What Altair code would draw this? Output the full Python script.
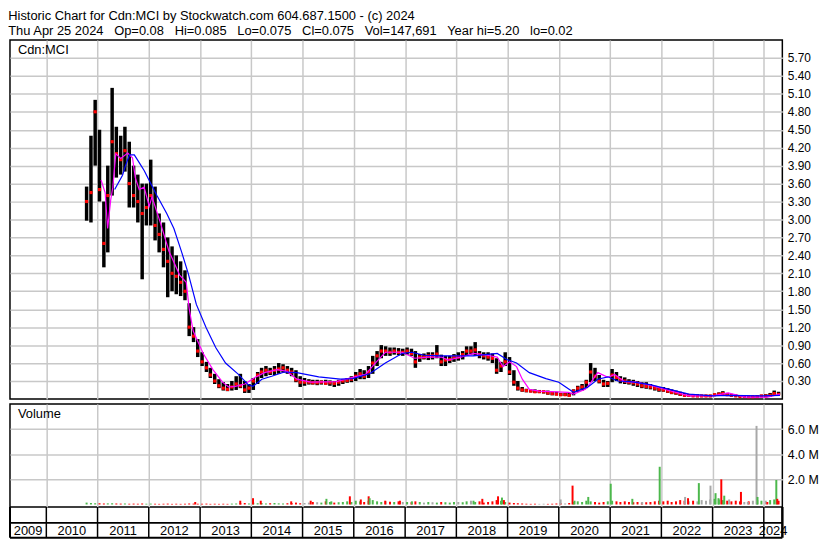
import altair as alt
import pandas as pd

FONT = "Liberation Sans"
GAP = " \u00a0 "
HEADER = [
    "Historic Chart for Cdn:MCI by Stockwatch.com 604.687.1500 - (c) 2024",
    GAP.join(["Thu Apr 25 2024", "Op=0.08", "Hi=0.085", "Lo=0.075", "Cl=0.075",
              "Vol=147,691", "Year hi=5.20", "lo=0.02"]),
]
SYMBOL = "Cdn:MCI"
VOLUME_LABEL = "Volume"

# monthly bars, Oct 2010 .. Apr 2024
START_YEAR, START_MONTH = 2010, 10
HIGH = [
    3.55, 4.40, 5.00,
    4.50, 3.30, 3.90, 5.20, 4.55, 4.40, 4.55, 4.30, 3.90, 3.75, 3.60, 3.60,
    4.00, 3.55, 3.10, 2.95, 2.70, 2.55, 2.40, 2.30, 2.15, 1.60, 1.20, 1.00,
    0.78, 0.62, 0.52, 0.42, 0.33, 0.28, 0.25, 0.30, 0.38, 0.42, 0.30, 0.25,
    0.35, 0.45, 0.52, 0.55, 0.52, 0.55, 0.60, 0.58, 0.55, 0.52, 0.48, 0.38,
    0.35, 0.33, 0.32, 0.32, 0.31, 0.32, 0.31, 0.30, 0.32, 0.33, 0.35, 0.38,
    0.45, 0.50, 0.48, 0.55, 0.72, 0.80, 0.90, 0.88, 0.86, 0.86, 0.85, 0.84,
    0.86, 0.84, 0.80, 0.75, 0.76, 0.78, 0.78, 0.90, 0.74, 0.72, 0.72, 0.75,
    0.78, 0.80, 0.88, 0.88, 0.95, 0.80, 0.78, 0.78, 0.76, 0.68, 0.62, 0.78,
    0.70, 0.48, 0.30, 0.20, 0.17, 0.16, 0.16, 0.15, 0.14, 0.14, 0.12, 0.12,
    0.10, 0.10, 0.10, 0.16, 0.22, 0.25, 0.32, 0.60, 0.52, 0.40, 0.32, 0.30,
    0.50, 0.45, 0.38, 0.36, 0.33, 0.32, 0.30, 0.28, 0.28, 0.25, 0.22, 0.20,
    0.20, 0.18, 0.16, 0.14, 0.12, 0.10, 0.08, 0.08, 0.08, 0.07, 0.07, 0.07,
    0.09, 0.11, 0.13, 0.10, 0.08, 0.07, 0.06, 0.06, 0.05, 0.05, 0.06, 0.07,
    0.08, 0.10, 0.14, 0.12,
]
LOW = [
    2.98, 2.95, 3.90,
    3.30, 2.20, 2.45, 3.40, 3.70, 3.75, 3.80, 3.20, 3.20, 2.95, 2.00, 2.90,
    2.90, 2.65, 2.45, 2.20, 1.70, 1.80, 1.75, 1.72, 1.65, 1.05, 0.95, 0.70,
    0.55, 0.45, 0.35, 0.25, 0.18, 0.14, 0.13, 0.14, 0.15, 0.18, 0.10, 0.10,
    0.15, 0.25, 0.35, 0.38, 0.40, 0.40, 0.42, 0.44, 0.42, 0.38, 0.28, 0.20,
    0.22, 0.24, 0.24, 0.23, 0.24, 0.24, 0.22, 0.20, 0.22, 0.25, 0.27, 0.28,
    0.30, 0.33, 0.33, 0.35, 0.42, 0.55, 0.68, 0.72, 0.72, 0.74, 0.73, 0.72,
    0.74, 0.72, 0.52, 0.62, 0.66, 0.65, 0.66, 0.68, 0.55, 0.55, 0.60, 0.62,
    0.64, 0.66, 0.72, 0.74, 0.72, 0.68, 0.66, 0.64, 0.60, 0.42, 0.45, 0.55,
    0.40, 0.22, 0.14, 0.12, 0.11, 0.11, 0.10, 0.10, 0.09, 0.07, 0.06, 0.06,
    0.05, 0.05, 0.04, 0.06, 0.12, 0.14, 0.18, 0.28, 0.30, 0.26, 0.20, 0.20,
    0.28, 0.30, 0.26, 0.25, 0.24, 0.22, 0.20, 0.18, 0.17, 0.16, 0.14, 0.12,
    0.12, 0.10, 0.08, 0.07, 0.05, 0.04, 0.04, 0.04, 0.03, 0.03, 0.03, 0.03,
    0.05, 0.06, 0.07, 0.05, 0.04, 0.04, 0.03, 0.03, 0.02, 0.02, 0.02, 0.03,
    0.03, 0.04, 0.05, 0.07,
]
CLOSE = [
    3.30, 3.45, 4.80,
    3.50, 2.60, 3.40, 4.30, 4.10, 4.00, 4.15, 3.60, 3.40, 3.30, 3.10, 3.20,
    3.40, 2.90, 2.75, 2.50, 2.30, 2.10, 2.05, 1.95, 1.80, 1.20, 1.05, 0.80,
    0.62, 0.52, 0.40, 0.30, 0.22, 0.18, 0.16, 0.20, 0.25, 0.22, 0.15, 0.18,
    0.30, 0.40, 0.45, 0.48, 0.45, 0.48, 0.50, 0.52, 0.48, 0.45, 0.32, 0.28,
    0.28, 0.28, 0.27, 0.27, 0.28, 0.26, 0.27, 0.26, 0.28, 0.30, 0.31, 0.33,
    0.38, 0.42, 0.38, 0.45, 0.60, 0.72, 0.80, 0.80, 0.78, 0.80, 0.78, 0.78,
    0.80, 0.76, 0.62, 0.70, 0.70, 0.72, 0.72, 0.75, 0.62, 0.65, 0.66, 0.70,
    0.70, 0.74, 0.80, 0.80, 0.82, 0.74, 0.72, 0.70, 0.68, 0.48, 0.55, 0.62,
    0.45, 0.28, 0.18, 0.15, 0.14, 0.13, 0.12, 0.12, 0.12, 0.10, 0.09, 0.08,
    0.07, 0.07, 0.06, 0.13, 0.18, 0.20, 0.28, 0.45, 0.38, 0.30, 0.25, 0.26,
    0.40, 0.36, 0.32, 0.30, 0.28, 0.27, 0.25, 0.22, 0.21, 0.20, 0.18, 0.16,
    0.15, 0.13, 0.11, 0.10, 0.08, 0.06, 0.06, 0.05, 0.05, 0.05, 0.05, 0.05,
    0.07, 0.08, 0.09, 0.07, 0.06, 0.05, 0.04, 0.04, 0.035, 0.035, 0.04, 0.05,
    0.05, 0.06, 0.09, 0.075,
]
# typical daily volume per month (millions)
VOL_BASE = [
    0.15, 0.12, 0.10,
    0.10, 0.08, 0.09, 0.10, 0.08, 0.07, 0.08, 0.06, 0.07, 0.06, 0.08, 0.06,
    0.07, 0.06, 0.05, 0.06, 0.07, 0.05, 0.06, 0.05, 0.06, 0.08, 0.07, 0.06,
    0.06, 0.07, 0.05, 0.06, 0.05, 0.06, 0.05, 0.07, 0.08, 0.10, 0.12, 0.08,
    0.15, 0.10, 0.12, 0.08, 0.10, 0.12, 0.09, 0.08, 0.10, 0.12, 0.15, 0.10,
    0.12, 0.15, 0.20, 0.18, 0.15, 0.25, 0.20, 0.15, 0.18, 0.20, 0.25, 0.20,
    0.30, 0.25, 0.20, 0.30, 0.35, 0.25, 0.20, 0.25, 0.22, 0.20, 0.25, 0.20,
    0.20, 0.18, 0.25, 0.20, 0.15, 0.20, 0.18, 0.15, 0.20, 0.18, 0.15, 0.20,
    0.20, 0.18, 0.25, 0.30, 0.20, 0.25, 0.15, 0.20, 0.25, 0.35, 0.30, 0.20,
    0.15, 0.12, 0.10, 0.08, 0.06, 0.05, 0.06, 0.05, 0.06, 0.05, 0.06, 0.08,
    0.10, 0.08, 0.12, 0.20, 0.25, 0.20, 0.30, 0.25, 0.20, 0.15, 0.20, 0.25,
    0.30, 0.25, 0.20, 0.25, 0.20, 0.18, 0.20, 0.15, 0.18, 0.20, 0.25, 0.30,
    0.25, 0.30, 0.20, 0.25, 0.35, 0.30, 0.25, 0.30, 0.25, 0.35, 0.30, 0.40,
    0.45, 0.40, 0.35, 0.30, 0.25, 0.30, 0.25, 0.20, 0.25, 0.30, 0.35, 0.30,
    0.30, 0.35, 0.40, 0.30,
]

MA_SHORT_DATES = [
    "2011-01-26", "2011-02-24", "2011-03-14", "2011-04-05", "2011-04-20", "2011-05-11",
    "2011-06-15", "2011-08-04", "2011-09-07", "2011-09-27", "2011-10-25", "2011-11-29",
    "2012-01-04", "2012-01-24", "2012-03-22", "2012-05-24", "2012-08-08", "2012-09-24",
    "2012-10-15", "2012-11-12", "2013-01-23", "2013-04-02", "2013-06-10", "2013-07-23",
    "2013-09-09", "2013-11-17", "2014-01-26", "2014-04-05", "2014-07-04", "2014-09-12",
    "2014-11-21", "2015-02-28", "2015-08-29", "2015-12-24", "2016-03-25", "2016-06-02",
    "2016-08-13", "2016-12-10", "2017-03-10", "2017-06-17", "2017-09-16", "2017-11-03",
    "2018-02-02", "2018-05-04", "2018-08-08", "2018-10-19", "2018-11-29", "2019-01-15",
    "2019-03-06", "2019-04-16", "2019-06-05", "2019-08-14", "2020-03-10", "2020-04-15",
    "2020-07-08", "2020-08-18", "2020-10-05", "2020-12-16", "2021-02-02", "2021-04-12",
    "2021-07-12", "2021-11-28", "2022-04-16", "2022-07-16", "2023-01-01", "2023-04-22",
    "2023-08-18", "2024-01-26", "2024-04-25",
]
MA_SHORT = [
    3.66, 3.45, 2.85, 3.33, 3.54, 4.10,
    4.02, 4.11, 4.03, 3.70, 3.50, 3.54,
    3.22, 3.38, 2.96, 2.47, 2.07, 1.95,
    1.51, 1.14, 0.76, 0.49, 0.28, 0.20,
    0.21, 0.25, 0.36, 0.44, 0.49, 0.46,
    0.33, 0.28, 0.29, 0.36, 0.41, 0.60,
    0.78, 0.78, 0.68, 0.70, 0.70, 0.65,
    0.70, 0.76, 0.73, 0.70, 0.54, 0.62,
    0.54, 0.33, 0.16, 0.13, 0.11, 0.08,
    0.16, 0.28, 0.44, 0.36, 0.41, 0.29,
    0.28, 0.20, 0.11, 0.05, 0.05, 0.10,
    0.03, 0.03, 0.08,
]
MA_LONG_DATES = [
    "2011-05-03", "2011-06-28", "2011-07-19", "2011-08-17", "2011-09-20", "2011-10-25",
    "2011-11-29", "2012-01-04", "2012-02-28", "2012-05-08", "2012-06-28", "2012-08-23",
    "2012-10-08", "2012-12-05", "2013-02-13", "2013-04-22", "2013-07-01", "2013-10-01",
    "2013-12-09", "2014-01-12", "2014-03-17", "2014-05-26", "2014-08-24", "2014-11-21",
    "2015-04-26", "2015-09-27", "2015-12-24", "2016-04-23", "2016-08-13", "2016-12-10",
    "2017-02-17", "2017-05-18", "2017-09-16", "2018-05-04", "2018-10-19", "2018-12-27",
    "2019-03-06", "2019-06-05", "2019-10-01", "2020-01-01", "2020-04-15", "2020-07-27",
    "2020-10-05", "2020-12-16", "2021-02-24", "2021-05-26", "2021-10-12", "2022-02-28",
    "2022-07-16", "2023-01-01", "2023-04-22", "2023-12-16", "2024-04-25",
]
MA_LONG = [
    3.50, 3.74, 3.90, 4.08, 4.08, 3.95,
    3.82, 3.65, 3.40, 3.10, 2.85, 2.45,
    2.10, 1.58, 1.19, 0.86, 0.60, 0.41,
    0.24, 0.21, 0.33, 0.38, 0.45, 0.44,
    0.37, 0.33, 0.34, 0.42, 0.60, 0.76,
    0.78, 0.73, 0.72, 0.72, 0.76, 0.66,
    0.60, 0.44, 0.34, 0.28, 0.11, 0.20,
    0.33, 0.37, 0.30, 0.29, 0.24, 0.16,
    0.08, 0.05, 0.06, 0.05, 0.06,
]

SPIKE_DATES = [
    "2012-11-27", "2013-10-14", "2014-01-13", "2014-03-09", "2014-10-12", "2015-02-28",
    "2015-06-20", "2015-07-25", "2015-12-04", "2016-02-20", "2016-04-16", "2016-04-23",
    "2016-08-12", "2016-11-25", "2017-02-18", "2018-05-03", "2018-07-05", "2018-10-25",
    "2018-11-22", "2018-12-06", "2020-01-14", "2020-04-08", "2020-04-22", "2020-07-29",
    "2021-01-05", "2021-06-08", "2021-08-17", "2021-12-20", "2022-06-19", "2022-07-10",
    "2022-09-25", "2022-12-17", "2023-01-22", "2023-02-12", "2023-03-04", "2023-03-25",
    "2023-04-29", "2023-07-22", "2023-09-09", "2023-11-10", "2023-11-17", "2024-01-26",
    "2024-03-30", "2024-04-06",
]
SPIKE_VOL = [
    0.20, 0.30, 0.50, 0.30, 0.25, 0.30,
    0.45, 0.25, 0.65, 0.40, 0.65, 0.50,
    0.30, 0.30, 0.25, 0.30, 0.45, 0.65,
    0.55, 0.35, 0.40, 1.50, 0.30, 0.60,
    1.65, 0.45, 0.20, 3.00, 0.60, 0.50,
    1.70, 1.50, 0.90, 0.50, 2.00, 0.70,
    0.40, 1.00, 0.20, 6.25, 0.60, 0.20,
    1.95, 0.45,
]
SPIKE_DIR = [
    "down", "down", "down", "down", "down", "down",
    "up", "up", "down", "down", "down", "up",
    "down", "down", "up", "up", "down", "down",
    "up", "down", "flat", "down", "up", "up",
    "up", "up", "flat", "up", "flat", "down",
    "up", "flat", "up", "up", "down", "up",
    "flat", "down", "flat", "flat", "up", "down",
    "up", "down",
]

PRICE_TICKS = [0.30, 0.60, 0.90, 1.20, 1.50, 1.80, 2.10, 2.40, 2.70, 3.00, 3.30, 3.60,
               3.90, 4.20, 4.50, 4.80, 5.10, 5.40, 5.70]
VOL_TICKS = [2000000, 4000000, 6000000]
YEARS = list(range(2009, 2025))
X_START = "2009-04-17"
X_END = "2024-05-12"

# ---------------------------------------------------------------- tables
n = len(CLOSE)
assert len(HIGH) == n and len(LOW) == n and len(VOL_BASE) == n
months = []
for i in range(n):
    k = START_MONTH - 1 + i
    months.append(f"{START_YEAR + k // 12}-{k % 12 + 1:02d}-15")
dirs = []
for i in range(n):
    if i == 0 or CLOSE[i] > CLOSE[i - 1]:
        dirs.append("up")
    elif CLOSE[i] < CLOSE[i - 1]:
        dirs.append("down")
    else:
        dirs.append("flat")
bars = pd.DataFrame({"date": months, "high": HIGH, "low": LOW, "close": CLOSE})
vol = pd.concat([
    pd.DataFrame({"date": months, "vol": [v * 1e6 for v in VOL_BASE], "dir": dirs}),
    pd.DataFrame({"date": SPIKE_DATES, "vol": [v * 1e6 for v in SPIKE_VOL], "dir": SPIKE_DIR}),
])
ma_s = pd.DataFrame({"date": MA_SHORT_DATES, "v": MA_SHORT})
ma_l = pd.DataFrame({"date": MA_LONG_DATES, "v": MA_LONG})

t0, t1 = pd.Timestamp(X_START), pd.Timestamp(X_END)
year_lines = pd.DataFrame({"date": [f"{y}-01-01" for y in YEARS[1:]]})
mids = []
for y in YEARS:
    a = max(pd.Timestamp(f"{y}-01-01"), t0)
    b = min(pd.Timestamp(f"{y + 1}-01-01"), t1)
    mids.append((a + (b - a) / 2).strftime("%Y-%m-%d"))
year_labels = pd.DataFrame({"date": mids, "label": [str(y) for y in YEARS]})

# ---------------------------------------------------------------- layout
W = 779
HP = 362
HV = 104
STRIP = 16
BAND = 31

def dt(s):
    t = pd.Timestamp(s)
    return alt.DateTime(year=t.year, month=t.month, date=t.day, utc=True)

xscale = alt.Scale(type="utc", domain=[dt(X_START), dt(X_END)])
xaxis = alt.Axis(values=[dt(d) for d in year_lines["date"]], grid=True, labels=False,
                 ticks=False, domain=False, title=None, gridColor="#c8c8c8", gridWidth=1.5)
X = alt.X("date:T", scale=xscale, axis=xaxis, title=None)

pscale = alt.Scale(domain=[0, 6.0], nice=False, zero=False)
paxis = alt.Axis(orient="right", values=PRICE_TICKS, format=".2f", grid=True, ticks=False,
                 domain=False, title=None, labelPadding=5, labelFont=FONT, labelFontSize=12,
                 labelColor="black", gridColor="#c8c8c8", gridWidth=1.5)

def PY(field):
    return alt.Y(field, scale=pscale, axis=paxis, title=None)

one = pd.DataFrame({"t": [SYMBOL]})

price = alt.layer(
    alt.Chart(bars).mark_rule(color="black", strokeWidth=3.5).encode(
        x=X, y=PY("low:Q"), y2="high:Q"),
    alt.Chart(bars).mark_square(color="#ff0000", size=10, opacity=1).encode(
        x=X, y=PY("close:Q")),
    alt.Chart(ma_s).mark_line(color="#ff00ff", strokeWidth=1.2).encode(
        x=X, y=PY("v:Q")),
    alt.Chart(ma_l).mark_line(color="#0000ff", strokeWidth=1.2).encode(
        x=X, y=PY("v:Q")),
    alt.Chart(one).mark_text(align="left", baseline="middle", font=FONT, fontSize=13,
                             color="black").encode(
        x=alt.value(8), y=alt.value(10), text="t:N"),
).properties(width=W, height=HP)

vscale = alt.Scale(domain=[-200000, 8000000], nice=False, zero=False)
vaxis = alt.Axis(orient="right", values=VOL_TICKS, grid=True, ticks=False, domain=False,
                 title=None, labelPadding=5, labelFont=FONT, labelFontSize=12.5,
                 labelColor="black", gridColor="#c8c8c8", gridWidth=1.5,
                 labelExpr="format(datum.value / 1000000, '.1f') + ' M'")
vcolor = alt.Color("dir:N", scale=alt.Scale(domain=["up", "down", "flat"],
                                             range=["#4cb84c", "#ff0000", "#a8a8a8"]),
                   legend=None)
onev = pd.DataFrame({"t": [VOLUME_LABEL]})
blank = pd.DataFrame({"a": [0]})

volume = alt.layer(
    alt.Chart(vol).mark_rule(strokeWidth=2).encode(
        x=X, y=alt.Y("vol:Q", scale=vscale, axis=vaxis, title=None), y2=alt.datum(0),
        color=vcolor),
    alt.Chart(onev).mark_text(align="left", baseline="middle", font=FONT, fontSize=13,
                              color="black").encode(
        x=alt.value(8), y=alt.value(10), text="t:N"),
    # date band below the volume panel
    alt.Chart(year_lines).mark_rule(color="black", strokeWidth=1.5).encode(
        x=X, y=alt.value(HV), y2=alt.value(HV + BAND)),
    alt.Chart(blank).mark_rule(color="black", strokeWidth=2).encode(
        x=alt.value(0), x2=alt.value(W), y=alt.value(HV + STRIP)),
    alt.Chart(blank).mark_rule(color="black", strokeWidth=2).encode(
        x=alt.value(0), x2=alt.value(W), y=alt.value(HV + BAND)),
    alt.Chart(blank).mark_rule(color="black", strokeWidth=2).encode(
        x=alt.value(0), y=alt.value(HV), y2=alt.value(HV + BAND)),
    alt.Chart(blank).mark_rule(color="black", strokeWidth=2.5).encode(
        x=alt.value(W), y=alt.value(HV), y2=alt.value(HV + BAND)),
    alt.Chart(year_labels).mark_text(baseline="middle", font=FONT, fontSize=13,
                                     color="black").encode(
        x=X, y=alt.value(HV + STRIP + 8), text="label:N"),
).properties(width=W, height=HV)

chart = alt.vconcat(price, volume, spacing=2).properties(
    title=alt.Title(HEADER, anchor="start", font=FONT, fontSize=13, fontWeight="normal",
                    color="black", lineHeight=15, offset=1),
    padding={"left": 0, "top": 0, "right": 2, "bottom": 0},
    background="white",
).configure_view(stroke="black", strokeWidth=1.5)

chart.save("out.html", embed_options={"renderer": "svg", "actions": False})
